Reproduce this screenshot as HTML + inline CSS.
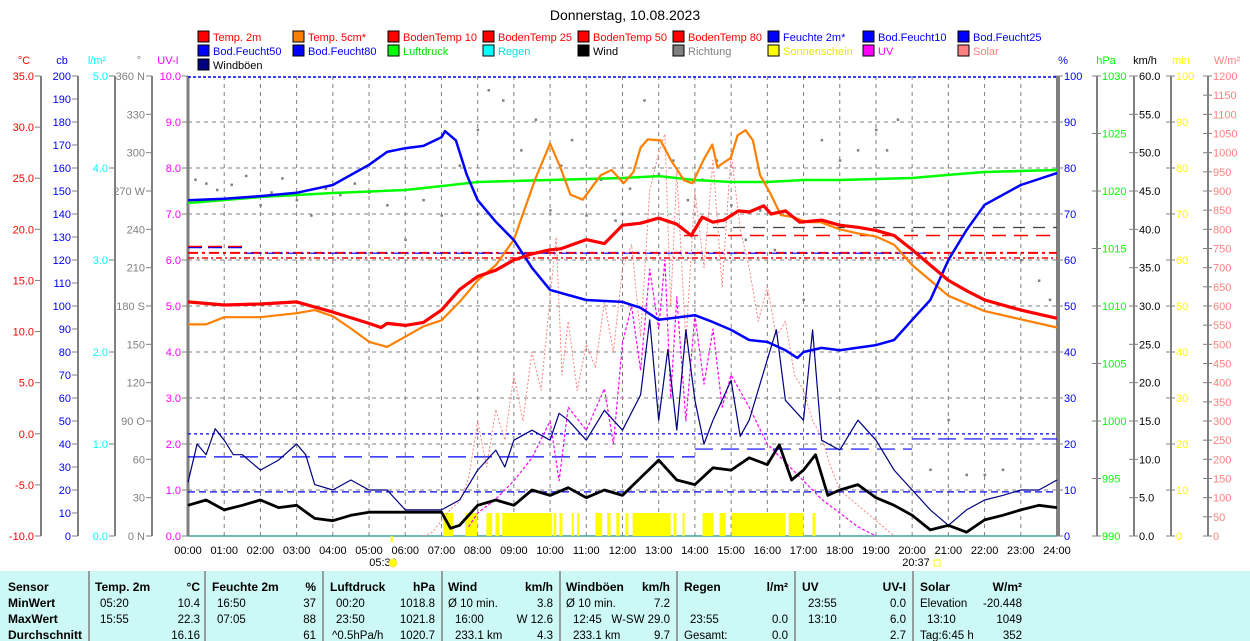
<!DOCTYPE html>
<html><head><meta charset="utf-8"><style>
html,body{margin:0;padding:0;background:#fff;}
svg{display:block;font-family:"Liberation Sans",Arial,sans-serif;}
</style></head><body>
<svg id="c" width="1250" height="641" viewBox="0 0 1250 641" xmlns="http://www.w3.org/2000/svg">
<text x="625" y="20" font-size="14" text-anchor="middle" fill="#000">Donnerstag, 10.08.2023</text>
<g id="legend"></g>
<g id="axes"></g>
<g id="grid"></g>
<g id="marks"></g>
<g id="table"></g>
</svg>
<script>
// ---------- data ----------
const temp2mT=[0,1,2,3,4,5,5.33,5.5,6,6.5,7,7.5,8,8.5,9,9.5,10,10.3,11,11.5,12,12.5,13,13.5,13.9,14.2,14.5,14.8,15.2,15.5,15.9,16.1,16.5,16.9,17.5,18,18.5,19,19.5,20,20.5,21,21.5,22,23,24];
const temp2mV=[12.9,12.6,12.7,12.9,11.9,10.8,10.4,10.8,10.6,10.9,12.1,14.1,15.4,16.0,17.0,17.6,18.0,18.1,19.0,18.6,20.4,20.6,21.1,20.5,19.4,21.2,20.7,20.9,21.8,21.7,22.3,21.5,21.8,20.7,20.9,20.4,20.2,19.9,19.4,18.0,16.5,15.0,14.0,13.1,12.1,11.3];
const temp5cmT=[0,0.5,1,2,3,3.5,4,4.5,5,5.5,6,6.5,7,7.5,8,8.5,9,9.3,9.6,10,10.28,10.56,10.9,11.4,11.7,12.03,12.3,12.5,12.7,13.05,13.33,13.7,13.93,14.24,14.48,14.62,14.99,15.18,15.4,15.6,15.8,16.1,16.37,16.7,17.1,17.47,18,18.5,19,19.5,20,20.5,21,22,23,24];
const temp5cmV=[10.7,10.7,11.4,11.4,11.8,12.1,11.5,10.3,9.0,8.5,9.5,10.5,11.1,12.9,15.0,16.5,19.0,22.0,25.0,28.4,26.1,23.4,22.9,25.3,25.8,24.5,25.6,28.0,28.8,28.7,26.8,24.8,24.5,26.8,28.3,26.1,27.0,29.2,29.7,28.7,25.3,23.4,21.4,21.2,20.7,20.7,20.0,19.6,19.3,18.5,16.5,15.0,13.5,12.0,11.2,10.4];
const humT=[0,1,2,3,4,5,5.5,6,6.5,7,7.1,7.4,7.7,8,8.5,9,9.5,10,10.5,11,12,12.5,13,14,14.5,15,15.5,16,16.5,16.83,17,17.5,18,19,19.5,20,20.5,21,21.5,22,23,24];
const humV=[73,73.3,73.9,74.6,76.3,80.7,83.5,84.3,84.8,86.7,88,86,78.5,73,68.3,64.3,58.3,53.5,52.4,51.3,50.9,49.6,47,48,46.5,44.8,42.6,42.2,40.4,38.7,40,40.9,40.4,41.5,42.6,47,51.3,60,66.5,72,76.3,78.9];
const pressT=[0,2,4,6,7,8,10,12,13,14,15,16,17,18,20,21,22,24];
const pressV=[1018.96,1019.48,1019.83,1020.09,1020.43,1020.78,1020.96,1021.13,1021.3,1020.96,1020.78,1020.78,1020.96,1020.96,1021.13,1021.4,1021.65,1021.83];
const windT=[0,0.5,1,1.5,2,2.5,3,3.5,4,4.5,5,6,7,7.25,7.5,8,8.5,9,9.5,10,10.5,11,11.5,12,12.5,13,13.5,14,14.5,15,15.5,16,16.33,16.67,17,17.33,17.67,18,18.5,19,19.5,20,20.5,21,21.5,22,22.5,23,23.5,24];
const windV=[4.0,4.7,3.4,4.0,4.7,3.7,4.0,2.3,2.0,2.7,3.1,3.1,3.1,1.0,1.4,4.0,4.7,4.0,6.0,5.3,6.3,5.0,6.0,5.3,7.6,9.9,7.3,6.7,8.9,8.6,10.2,9.3,11.9,7.3,8.6,10.6,5.3,6.0,6.7,5.0,4.0,2.7,0.8,1.4,0.5,2.1,2.7,3.4,4.0,3.7];
const gustT=[0,0.25,0.5,0.75,1,1.25,1.5,2,2.5,3,3.25,3.5,4,4.5,5,5.5,6,7,7.5,8,8.5,8.75,9,9.5,10,10.25,10.5,11,11.5,12,12.5,12.75,13,13.25,13.5,13.75,14,14.25,14.5,15,15.25,15.5,16,16.25,16.5,17,17.25,17.5,18,18.5,19,19.5,20,20.5,21,21.5,22,22.5,23,23.5,24];
const gustV=[7,12,10.6,14,12.5,10.6,10.6,8.6,9.9,12,10.6,6.7,6.0,7.3,6.0,6.0,3.4,3.4,4.7,8.6,11.2,9,12.5,13.8,12.5,16,15.1,12.5,16.4,13.8,18.4,28.2,15.1,24.3,13.8,26.9,17.7,12,15.1,20.3,13,15.1,23.0,26.9,17.7,15.1,26.9,12.5,11.2,15.1,12.5,8.6,6.0,3.4,1.4,3.4,4.7,5.3,6.0,6.0,7.3];
const dirT=[0.2,0.5,0.8,1.2,1.6,2.0,2.3,2.6,3.0,3.4,3.8,4.2,4.6,5.0,5.5,6.0,6.5,7.0,7.5,8.0,8.3,8.7,9.2,9.6,10.0,10.3,10.6,11.0,11.4,11.8,12.2,12.6,13.0,13.4,13.8,14.2,14.6,15.0,15.4,15.8,16.2,17.0,17.5,18.0,18.5,19.0,19.3,19.6,20.0,20.5,21.0,21.5,22.0,22.5,23.0,23.5,23.8];
const dirV=[279,276,271,275,282,259,269,280,263,251,272,267,276,269,259,232,263,251,290,318,349,341,302,326,255,290,310,251,279,247,272,341,283,294,263,279,294,259,232,255,224,185,310,294,302,318,302,326,239,52,91,48,48,52,216,200,185];
const sunStart=[7.05,7.66,8.24,8.49,8.68,10.1,10.26,10.6,10.75,11.25,11.58,11.83,12.08,12.28,13.41,13.66,14.21,14.68,15.01,16.59,17.25];
const sunEnd=[7.33,7.99,8.40,8.60,10.06,10.17,10.34,10.65,10.80,11.44,11.67,11.92,12.16,13.33,13.49,13.71,14.51,14.85,16.50,17.0,17.33];
const sunMin=[5,5,5,5,5,5,5,5,5,5,5,5,5,5,5,5,5,5,5,5,5];
const solarT=[6.5,6.75,7,7.25,7.5,7.75,8,8.25,8.5,8.75,9,9.25,9.5,9.75,10,10.17,10.33,10.5,10.75,11,11.25,11.5,11.75,12,12.25,12.5,12.75,13,13.17,13.33,13.5,13.75,14,14.25,14.5,14.75,15,15.25,15.5,15.75,16,16.25,16.5,16.75,17,17.25,17.5,17.75,18,18.5,19,19.5];
const solarV=[0,10,40,70,90,150,300,180,330,250,420,300,480,380,620,780,420,560,380,500,440,610,480,700,760,520,900,1000,1049,600,950,500,900,700,980,650,1000,800,700,560,650,520,560,420,380,300,260,180,120,80,40,0];
const uvT=[7.75,8,8.5,9,9.5,10,10.25,10.5,11,11.5,11.75,12,12.25,12.5,12.75,13,13.17,13.33,13.5,13.75,14,14.25,14.5,14.75,15,15.5,16,16.5,17,17.5,18,18.5,19];
const uvV=[0.2,0.5,0.8,1.2,1.7,2.5,1.2,2.8,2.3,3.2,2.0,4.2,5.0,3.6,5.8,4.5,6.0,3.0,5.2,2.5,4.8,3.3,4.5,2.8,3.5,2.8,2.0,1.6,1.2,0.8,0.5,0.2,0];
// reference levels (soil sensors)
const soilTempLevels=[17.7,17.2];
const soilTempSeg1=[18.3,19.4];
const soilMoistLevels=[22.2,9.6,61.7];
const soilMoistStepT=[0,14,20,24];
const soilMoistStepV=[17.2,18.9,21.1];
const hours=[0,1,2,3,4,5,6,7,8,9,10,11,12,13,14,15,16,17,18,19,20,21,22,23,24];

// ---------- scales ----------
const NS='http://www.w3.org/2000/svg';
const PL=188,PR=1057,PT=76,PB=536,PH=PB-PT;
const X=h=>PL+h*(PR-PL)/24;
const yTemp=v=>PB-(v+10)*PH/45;
const yPct=v=>PB-v*PH/100;
const yHpa=v=>PB-(v-990)*PH/40;
const yKmh=v=>PB-v*PH/60;
const yDeg=v=>PB-v*PH/360;
const yUV=v=>PB-v*PH/10;
const ySol=v=>PB-v*PH/1200;
const yMin=v=>PB-v*PH/100;
function el(tag,attrs,parent,text){const e=document.createElementNS(NS,tag);for(const k in attrs)e.setAttribute(k,attrs[k]);if(text!==undefined)e.textContent=text;parent.appendChild(e);return e;}
const G=id=>document.getElementById(id);

// ---------- legend ----------
const lg=G('legend');
const legendItems=[
['Temp. 2m','#ff0000','#ff0000'],['Temp. 5cm*','#ff8000','#ff0000'],['BodenTemp 10','#ff0000','#ff0000'],['BodenTemp 25','#ff0000','#ff0000'],['BodenTemp 50','#ff0000','#ff0000'],['BodenTemp 80','#ff0000','#ff0000'],['Feuchte 2m*','#0000ff','#0000ff'],['Bod.Feucht10','#0000ff','#0000ff'],['Bod.Feucht25','#0000ff','#0000ff'],
['Bod.Feucht50','#0000ff','#0000ff'],['Bod.Feucht80','#0000ff','#0000ff'],['Luftdruck','#00ff00','#00e000'],['Regen','#00ffff','#00e0e0'],['Wind','#000000','#000000'],['Richtung','#808080','#808080'],['Sonnenschein','#ffff00','#e8e800'],['UV','#ff00ff','#ff00ff'],['Solar','#ff8080','#ff8080'],
['Windböen','#000080','#000000']];
legendItems.forEach((it,i)=>{
  const col=i%9,row=Math.floor(i/9);
  const x=198+col*95,y=31+row*14;
  const g=el('g',{},lg);
  
  
  el('rect',{x:x,y:y,width:11,height:11,fill:it[1],stroke:'#000','stroke-width':1},g);
  el('text',{x:x+15,y:y+10,'font-size':11,fill:it[2]},g,it[0]);
});

// ---------- axes ----------
const ax=G('axes');
function axis(name,lineX,side,color,unit,unitX,ticks,yf,fmt){
  const g=el('g',{},ax);
  
  
  el('line',{x1:lineX,y1:PT,x2:lineX,y2:PB,stroke:'#808080','stroke-width':2},g);
  el('text',{x:unitX,y:64,'font-size':11,fill:color,'text-anchor':'middle'},g,unit);
  ticks.forEach(t=>{
    const y=yf(t);
    if(side==='L'){
      el('line',{x1:lineX-6,y1:y,x2:lineX,y2:y,stroke:'#808080','stroke-width':1},g);
      el('text',{x:lineX-7,y:y+4,'font-size':11,fill:color,'text-anchor':'end'},g,fmt(t));
    }else{
      el('line',{x1:lineX-5,y1:y,x2:lineX+4,y2:y,stroke:'#808080','stroke-width':1},g);
      el('text',{x:lineX+5,y:y+4,'font-size':11,fill:color},g,fmt(t));
    }
  });
}
const rng=(a,b,s)=>{const r=[];for(let v=a;v<=b+1e-9;v+=s)r.push(+v.toFixed(4));return r;};
axis('temp-axis',41,'L','#ff0000','°C',24,rng(-10,35,5),yTemp,v=>v.toFixed(1));
axis('cb-axis',78,'L','#0000ff','cb',62,rng(0,200,10),v=>PB-v*PH/200,v=>String(v));
axis('rain-axis',115,'L','#00ffff','l/m²',97,rng(0,5,1),v=>PB-v*PH/5,v=>v.toFixed(1));
const dirNames={0:' N',90:' O',180:' S',270:' W',360:' N'};
axis('direction-axis',152,'L','#808080','°',139,rng(0,360,30),yDeg,v=>v+(dirNames[v]||''));
axis('uv-axis',188,'L','#ff00ff','UV-I',168,rng(0,10,1),yUV,v=>v.toFixed(1));
axis('humidity-axis',1059,'R','#0000ff','%',1063,rng(0,100,10),yPct,v=>String(v));
axis('pressure-axis',1097,'R','#00ff00','hPa',1106,rng(990,1030,5),yHpa,v=>String(v));
axis('wind-axis',1134,'R','#000000','km/h',1145,rng(0,60,5),yKmh,v=>v.toFixed(1));
axis('sunshine-axis',1171,'R','#ffff00','min',1181,rng(0,100,10),yMin,v=>String(v));
axis('solar-axis',1208,'R','#ff8080','W/m²',1227,rng(0,1200,50),ySol,v=>String(v));

// ---------- grid ----------
const gr=G('grid');
hours.forEach(h=>{
  if(h>0&&h<24) el('line',{x1:X(h),y1:PT,x2:X(h),y2:PB,stroke:'#808080','stroke-width':1,'stroke-dasharray':'4,4'},gr);
  const t=el('text',{x:X(h),y:554,'font-size':11,'text-anchor':'middle',fill:'#000'},gr,String(h).padStart(2,'0')+':00');
  
  
});
for(let u=1;u<10;u++) el('line',{x1:PL,y1:yUV(u),x2:PR,y2:yUV(u),stroke:'#808080','stroke-width':1,'stroke-dasharray':'4,4'},gr);
el('line',{x1:PL,y1:PT,x2:PL,y2:PB,stroke:'#808080','stroke-width':3},gr);
el('line',{x1:PR,y1:PT,x2:PR,y2:PB,stroke:'#808080','stroke-width':2},gr);
el('line',{x1:PL,y1:PB,x2:PR,y2:PB,stroke:'#40a0a0','stroke-width':1.5},gr);
el('text',{x:383,y:566,'font-size':11,'text-anchor':'middle'},gr,'05:36');
el('circle',{cx:393,cy:563,r:4,fill:'#ffff00',stroke:'#ffe060'},gr);
el('text',{x:916,y:566,'font-size':11,'text-anchor':'middle'},gr,'20:37');
el('rect',{x:934,y:560,width:6,height:6,fill:'none',stroke:'#ffff00'},gr);

// ---------- marks ----------
const mk=G('marks');
function line(name,T,V,yf,color,w,dash){
  const p=T.map((t,i)=>X(t).toFixed(1)+','+yf(V[i]).toFixed(1)).join(' ');
  const e=el('polyline',{points:p,fill:'none',stroke:color,'stroke-width':w,'stroke-linejoin':'round'},mk);
  if(dash)e.setAttribute('stroke-dasharray',dash);
  
  
}
function hline(name,y,x1,x2,color,dash,w){
  const e=el('line',{x1:x1,y1:y,x2:x2,y2:y,stroke:color,'stroke-width':w||1.5,'stroke-dasharray':dash},mk);
  
  
}
sunStart.forEach((s,i)=>{
  const r=el('rect',{x:X(s),y:yMin(sunMin[i]),width:Math.max(2,X(sunEnd[i])-X(s)),height:PB-yMin(sunMin[i]),fill:'#ffff00'},mk);
  
  
});
el('rect',{x:X(5.6),y:PB,width:2,height:6,fill:'#ffff00'},mk);
hline('soil-moisture-top',PT+1,PL,PR,'#0000ff','3,2',1.5);
hline('soil-temp-50',yTemp(soilTempLevels[0]),PL,PR,'#ff0000','10,4,3,4',2);
hline('soil-temp-80',yTemp(soilTempLevels[1]),PL,PR,'#ff0000','6,3,2,3',1.5);
hline('soil-moist-25',yPct(soilMoistLevels[2])+1,X(1.6),X(20.5),'#0000ff','8,5,3,5',1.2);
hline('soil-temp-10-early',yTemp(soilTempSeg1[0]),PL,X(1.6),'#ff0000','14,6',2);
hline('soil-moist-early',yTemp(soilTempSeg1[0])+1,PL,X(1.6),'#0000ff','14,6',1.2);
hline('soil-temp-10-late',yTemp(soilTempSeg1[1]),X(13.7),PR,'#ff0000','14,8',1.5);
hline('soil-moist-10-late',yTemp(soilTempSeg1[1])-8,X(14.5),PR,'#404040','12,8',1.2);
hline('soil-moist-50',yPct(soilMoistLevels[0]),PL,PR,'#0000ff','3,3',1.2);
hline('soil-moist-80',yPct(soilMoistLevels[1]),PL,PR,'#0000ff','7,4',1.2);
for(let i=0;i<soilMoistStepV.length;i++) hline('soil-moist-10',yPct(soilMoistStepV[i]),X(soilMoistStepT[i]),X(soilMoistStepT[i+1]),'#0000ff','18,8',1.2);
dirT.forEach((t,i)=>{
  const r=el('rect',{x:X(t)-1,y:yDeg(dirV[i])-1,width:2.5,height:2.5,fill:'#808080'},mk);
  
  
});
line('solar-line',solarT,solarV,ySol,'#ff8080',1,'2,2');
line('uv-line',uvT,uvV,yUV,'#ff00ff',1.2,'3,2');
line('gust-line',gustT,gustV,yKmh,'#000080',1.2);
line('pressure-line',pressT,pressV,yHpa,'#00ff00',2.5);
line('temp-5cm-line',temp5cmT,temp5cmV,yTemp,'#ff8000',2.2);
line('humidity-line',humT,humV,yPct,'#0000ff',2.5);
line('temp-2m-line',temp2mT,temp2mV,yTemp,'#ff0000',3.2);
line('wind-line',windT,windV,yKmh,'#000000',2.8);

// ---------- table ----------
const tb=G('table');
el('rect',{x:0,y:571,width:1250,height:70,fill:'#ccf8f5'},tb);
[89,205,323,442,560,677,795,913].forEach(x=>el('line',{x1:x,y1:571,x2:x,y2:641,stroke:'#808080','stroke-width':1.5},tb));
const rowsY=[591,607,623,639];
['Sensor','MinWert','MaxWert','Durchschnitt'].forEach((t,i)=>el('text',{x:8,y:rowsY[i],'font-size':12,'font-weight':'bold'},tb,t));
const cols=[
 {x:95,r:200,h:['Temp. 2m','°C'],c:[['05:20','10.4',5],['15:55','22.3',5],['','16.16',0]]},
 {x:212,r:316,h:['Feuchte 2m','%'],c:[['16:50','37',5],['07:05','88',5],['','61',0]]},
 {x:330,r:435,h:['Luftdruck','hPa'],c:[['00:20','1018.8',6],['23:50','1021.8',6],['^0.5hPa/h','1020.7',2]]},
 {x:448,r:553,h:['Wind','km/h'],c:[['Ø 10 min.','3.8',0],['16:00','W 12.6',7],['233.1 km','4.3',7]]},
 {x:566,r:670,h:['Windböen','km/h'],c:[['Ø 10 min.','7.2',0],['12:45','W-SW 29.0',7],['233.1 km','9.7',7]]},
 {x:684,r:788,h:['Regen','l/m²'],c:[['','',0],['23:55','0.0',6],['Gesamt:','0.0',0]]},
 {x:802,r:906,h:['UV','UV-I'],c:[['23:55','0.0',6],['13:10','6.0',6],['','2.7',0]]},
 {x:920,r:1022,h:['Solar','W/m²'],c:[['Elevation','-20.448',0],['13:10','1049',7],['Tag:6:45 h','352',0]]}];
cols.forEach(c=>{
  el('text',{x:c.x,y:rowsY[0],'font-size':12,'font-weight':'bold'},tb,c.h[0]);
  el('text',{x:c.r,y:rowsY[0],'font-size':12,'font-weight':'bold','text-anchor':'end'},tb,c.h[1]);
  c.c.forEach((r,i)=>{
    if(r[0])el('text',{x:c.x+r[2],y:rowsY[i+1],'font-size':11.5},tb,r[0]);
    if(r[1])el('text',{x:c.r,y:rowsY[i+1],'font-size':11.5,'text-anchor':'end'},tb,r[1]);
  });
});
</script>
</body></html>
